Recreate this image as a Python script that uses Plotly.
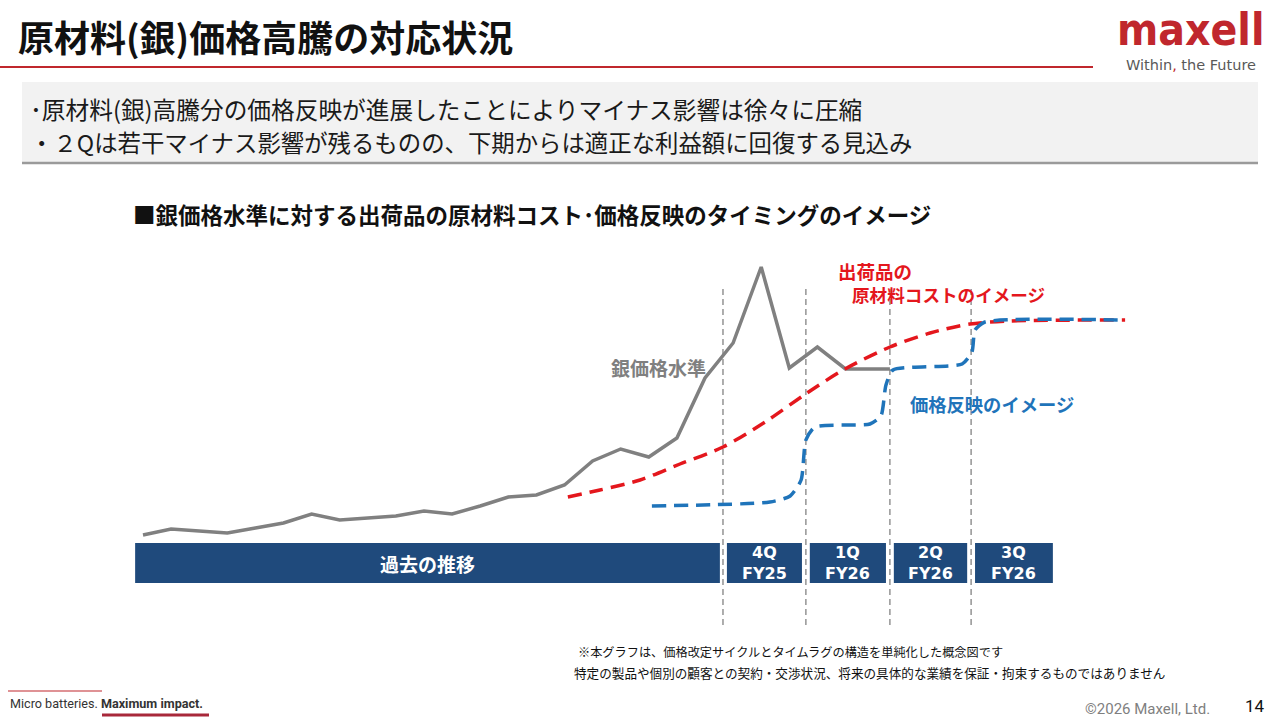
import plotly.graph_objects as go

W, H = 1280, 720

# ---------------- data (conceptual index levels) ----------------
silver_x = [0, 1, 2, 3, 4, 5, 6, 7, 8, 9, 10, 11, 12, 13, 14, 15, 16, 17, 18, 19,
            20, 21, 22, 23, 24, 25, 26.58]
silver_level = [65, 71, 69, 67, 72, 77, 86, 80, 82, 84, 89, 86, 94, 103, 105, 115,
                139, 151, 143, 162, 222, 257, 333, 232, 253, 231, 231]

cost_x = [15.12, 16.26, 17.69, 19.11, 20.64, 22.14, 23.63, 24.98, 26.58, 28.01,
          29.43, 30.85, 34.95]
cost_level = [103, 110, 120, 136, 153, 178, 207, 231, 253, 267, 276, 279, 280]

price_x = [18.11, 22.31, 23.03, 23.42, 23.59, 23.91, 25.87, 26.26, 26.44, 26.69,
           29.15, 29.50, 29.61, 29.96, 34.95]
price_level = [94, 98, 104, 120, 160, 173, 176, 184, 215, 230, 236, 248, 270, 278, 280]

quarter_bounds = [20.64, 23.59, 26.58, 29.47, 32.52]
quarter_labels = ["4Q<br>FY25", "1Q<br>FY26", "2Q<br>FY26", "3Q<br>FY26"]
past_start = -0.28
past_label = "過去の推移"

title_text = "原材料(銀)価格高騰の対応状況"
bullet_lines = [
    "･原材料(銀)高騰分の価格反映が進展したことによりマイナス影響は徐々に圧縮",
    "・２Qは若干マイナス影響が残るものの、下期からは適正な利益額に回復する見込み",
]
subtitle_text = "■銀価格水準に対する出荷品の原材料コスト･価格反映のタイミングのイメージ"
note_lines = [
    "※本グラフは、価格改定サイクルとタイムラグの構造を単純化した概念図です",
    "特定の製品や個別の顧客との契約・交渉状況、将来の具体的な業績を保証・拘束するものではありません",
]

# ---------------- styles ----------------
JP = "Noto Sans CJK JP"
GRAY = "#808080"
RED = "#E4171D"
BLUE = "#1F74BA"
NAVY = "#1F4A7C"
BRAND = "#C0272D"

X0_PX, STEP_PX = 143.0, 28.1
xr = [(0 - X0_PX) / STEP_PX, (W - X0_PX) / STEP_PX]
yr = [-120, 600]


def px(x):
    return x / W


def py(y):
    return 1 - y / H


fig = go.Figure()

fig.add_trace(go.Scatter(x=silver_x, y=silver_level, mode="lines",
                         line=dict(color=GRAY, width=3.5), hoverinfo="skip"))
fig.add_trace(go.Scatter(x=cost_x, y=cost_level, mode="lines",
                         line=dict(color=RED, width=3.5, dash="14px,8px", shape="spline",
                                   smoothing=0.8),
                         hoverinfo="skip"))
fig.add_trace(go.Scatter(x=price_x, y=price_level, mode="lines",
                         line=dict(color=BLUE, width=3.5, dash="14px,8px", shape="spline",
                                   smoothing=0.6),
                         hoverinfo="skip"))

shapes = []
# header underline
shapes.append(dict(type="line", xref="paper", yref="paper", x0=px(0), x1=px(1093),
                   y0=py(67), y1=py(67), line=dict(color=BRAND, width=2)))
# grey message box
shapes.append(dict(type="rect", xref="paper", yref="paper", x0=px(22), x1=px(1258),
                   y0=py(82), y1=py(163), fillcolor="#F2F2F2", line=dict(width=0),
                   layer="below"))
shapes.append(dict(type="line", xref="paper", yref="paper", x0=px(22), x1=px(1258),
                   y0=py(163), y1=py(163), line=dict(color="#9A9A9A", width=2.5)))
# quarter separators
for b in quarter_bounds[:4]:
    shapes.append(dict(type="line", xref="x", yref="y", x0=b, x1=b, y0=-25, y1=315,
                       line=dict(color="#8C8C8C", width=1.4, dash="6px,4px"), layer="below"))
# timeline boxes
shapes.append(dict(type="rect", xref="x", yref="y", x0=past_start,
                   x1=quarter_bounds[0] - 0.11, y0=17, y1=57, fillcolor=NAVY,
                   line=dict(width=0)))
for k in range(4):
    shapes.append(dict(type="rect", xref="x", yref="y", x0=quarter_bounds[k] + 0.14,
                       x1=quarter_bounds[k + 1] - 0.14, y0=17, y1=57, fillcolor=NAVY,
                       line=dict(width=0)))
# footer brand lines
shapes.append(dict(type="line", xref="paper", yref="paper", x0=px(8), x1=px(102),
                   y0=py(691), y1=py(691), line=dict(color=BRAND, width=1.2)))
shapes.append(dict(type="line", xref="paper", yref="paper", x0=px(102), x1=px(209),
                   y0=py(715), y1=py(715), line=dict(color="#A8283A", width=3)))

ann = []


def text(x, y, s, size, color="#000000", bold=False, family=JP, xanchor="left",
         yanchor="middle", xref="paper", yref="paper", align="left"):
    ann.append(dict(x=x, y=y, xref=xref, yref=yref, text=s, showarrow=False,
                    xanchor=xanchor, yanchor=yanchor, align=align,
                    font=dict(family=family, size=size, color=color,
                              weight="bold" if bold else "normal")))


text(px(16), py(36), title_text, 36, "#111111", bold=True)

# brand logo + tagline
text(px(1190), py(30), "maxell", 44, BRAND, bold=True,
     family="DejaVu Sans Condensed, DejaVu Sans", xanchor="center")
text(px(1191), py(64.5), 'Within<span style="color:#C0272D">,</span> the Future', 14.5,
     "#595959", family="DejaVu Sans", xanchor="center")

text(px(28), py(109), bullet_lines[0], 23.7, "#1a1a1a")
text(px(28), py(142), bullet_lines[1], 23.4, "#1a1a1a")
text(px(131), py(214), subtitle_text, 22.5, "#111111", bold=True)

text(px(658), py(367), "銀価格水準", 19, GRAY, bold=True, xanchor="center")
text(px(836), py(271), "出荷品の", 18.5, RED, bold=True)
text(px(850), py(294), "原材料コストのイメージ", 17.6, RED, bold=True)
text(px(908), py(404), "価格反映のイメージ", 18.3, BLUE, bold=True)

# timeline labels
text((past_start + quarter_bounds[0] - 0.11) / 2, 37, past_label, 19, "#FFFFFF", bold=True,
     xanchor="center", xref="x", yref="y")
for k in range(4):
    ann.append(dict(x=(quarter_bounds[k] + quarter_bounds[k + 1]) / 2, y=37, xref="x",
                    yref="y", text=quarter_labels[k], showarrow=False, xanchor="center",
                    yanchor="middle", align="center",
                    font=dict(family="DejaVu Sans", size=16, color="#FFFFFF", weight="bold")))

text(px(576), py(652), note_lines[0], 12.2, "#111111")
text(px(572), py(672), note_lines[1], 12.6, "#111111")

text(px(8), py(703), 'Micro batteries. <b>Maximum impact.</b>', 12.6, "#333333",
     family="Roboto")
text(px(1083), py(709), "©2026 Maxell, Ltd.", 15, "#7F7F7F", family="Roboto")
text(px(1243), py(706), "14", 17, "#111111", family="Roboto")

fig.update_layout(
    width=W, height=H, autosize=False,
    margin=dict(l=0, r=0, t=0, b=0),
    paper_bgcolor="#FFFFFF", plot_bgcolor="#FFFFFF",
    showlegend=False,
    xaxis=dict(range=xr, domain=[0, 1], visible=False, fixedrange=True),
    yaxis=dict(range=yr, domain=[0, 1], visible=False, fixedrange=True),
    shapes=shapes, annotations=ann,
)

fig.write_html("out.html", config={"displayModeBar": False},
               post_script="document.body.style.margin='0';document.body.style.overflow='hidden';")
